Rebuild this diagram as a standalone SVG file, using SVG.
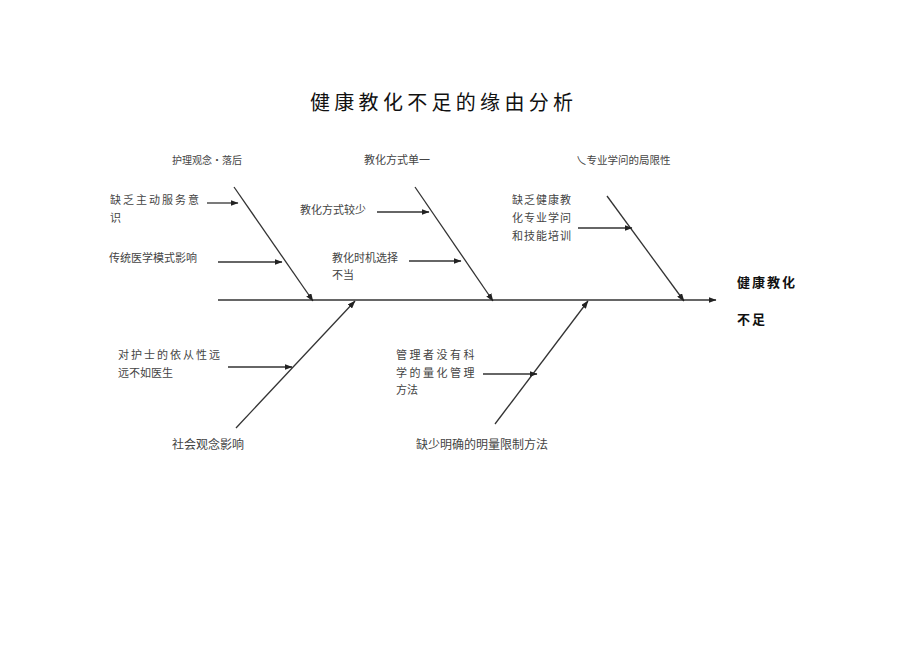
<svg xmlns="http://www.w3.org/2000/svg" width="920" height="651" viewBox="0 0 920 651">
<defs>
<marker id="ah" markerWidth="8" markerHeight="6" refX="7.5" refY="3" orient="auto" markerUnits="userSpaceOnUse">
<path d="M0,0 L8,3 L0,6 Z" fill="#222"/>
</marker>
<style>
.t{font-family:"Noto Sans CJK SC","Noto Sans",sans-serif;fill:#444;font-size:11px}
.title{font-family:"Noto Sans CJK SC",sans-serif;fill:#111;font-size:20px;letter-spacing:4.3px}
.bold{font-family:"Noto Sans CJK SC",sans-serif;fill:#111;font-size:13px;font-weight:bold;letter-spacing:2px}
.bone{stroke:#222;stroke-width:1.3;fill:none}
.arr{stroke:#333;stroke-width:1.3;fill:none;marker-end:url(#ah)}
</style>
</defs>
<rect width="920" height="651" fill="#fff"/>
<text class="title" x="310" y="110">健康教化不足的缘由分析</text>
<g id="connectors">
<line class="arr" x1="218" y1="300" x2="716" y2="300"/>
<line class="arr" x1="234" y1="187" x2="313" y2="301"/>
<line class="arr" x1="415" y1="187" x2="493" y2="301"/>
<line class="arr" x1="607" y1="196" x2="684" y2="301"/>
<line class="arr" x1="236" y1="428" x2="355" y2="301"/>
<line class="arr" x1="495" y1="424" x2="588" y2="301"/>
<line class="arr" x1="207" y1="203" x2="238" y2="203"/>
<line class="arr" x1="218" y1="262" x2="282" y2="262"/>
<line class="arr" x1="377" y1="212" x2="429" y2="212"/>
<line class="arr" x1="409" y1="261" x2="461" y2="261"/>
<line class="arr" x1="578" y1="228" x2="632" y2="228"/>
<line class="arr" x1="228" y1="367" x2="292" y2="367"/>
<line class="arr" x1="483" y1="374" x2="537" y2="374"/>
</g>
<g id="head"><text class="bold" x="737" y="287">健康教化</text><text class="bold" x="737" y="324">不足</text></g>
<g id="cat1"><text class="t" x="172" y="164" style="font-size:10px">护理观念•落后</text></g>
<g id="cat2"><text class="t" x="364" y="164">教化方式单一</text></g>
<g id="cat3"><text class="t" x="576" y="164" style="font-size:10.5px">乀专业学问的局限性</text></g>
<g id="cat4"><text class="t" x="172" y="449" style="font-size:12px">社会观念影响</text></g>
<g id="cat5"><text class="t" x="416" y="449" style="font-size:12px">缺少明确的明量限制方法</text></g>
<g id="c1"><text class="t" x="110" y="204" style="letter-spacing:2px">缺乏主动服务意</text><text class="t" x="110" y="222">识</text></g>
<g id="c2"><text class="t" x="109" y="262">传统医学模式影响</text></g>
<g id="c3"><text class="t" x="300" y="214">教化方式较少</text></g>
<g id="c4"><text class="t" x="332" y="262">教化时机选择</text><text class="t" x="332" y="279">不当</text></g>
<g id="c5"><text class="t" x="512" y="204" style="letter-spacing:1px">缺乏健康教</text><text class="t" x="512" y="222" style="letter-spacing:1px">化专业学问</text><text class="t" x="512" y="240" style="letter-spacing:1px">和技能培训</text></g>
<g id="c6"><text class="t" x="118" y="359" style="letter-spacing:2px">对护士的依从性远</text><text class="t" x="118" y="377">远不如医生</text></g>
<g id="c7"><text class="t" x="396" y="359" style="letter-spacing:2.5px">管理者没有科</text><text class="t" x="396" y="377" style="letter-spacing:2.5px">学的量化管理</text><text class="t" x="396" y="394">方法</text></g>
</svg>
